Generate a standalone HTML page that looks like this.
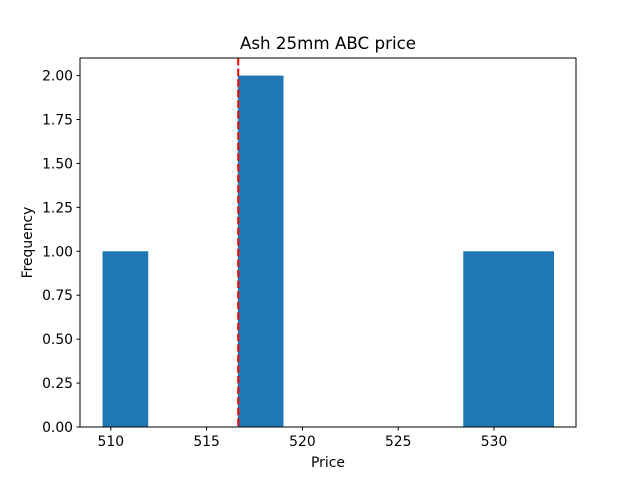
<!DOCTYPE html>
<html><head><meta charset="utf-8"><style>body{margin:0;background:#fff}svg text{font-family:"DejaVu Sans","Liberation Sans",sans-serif;fill:#000}</style></head>
<body>
<svg id="chart" width="640" height="480" xmlns="http://www.w3.org/2000/svg">
<rect width="640" height="480" fill="#fff"/>
<text x="328" y="49" font-size="16.7" text-anchor="middle">Ash 25mm ABC price</text>
<g id="bars"></g><g id="ticks"></g>
<rect x="80" y="58" width="496" height="369" fill="none" stroke="#000" stroke-width="1"/>
<text x="328" y="467" font-size="13.9" text-anchor="middle">Price</text>
<text transform="translate(32,242.5) rotate(-90)" font-size="13.9" text-anchor="middle">Frequency</text>
</svg>
<script>
const binCounts = [1,0,0,2,0,0,0,0,1,1];
const binMin = 509.57;
const binMax = 533.1;
const refValue = 516.65;
const xTicks = [510,515,520,525,530];
const yTicks = [0,0.25,0.5,0.75,1.0,1.25,1.5,1.75,2.0];

const L=80,R=576,T=58,B=427;
const span=binMax-binMin, xlo=binMin-0.05*span, xhi=binMax+0.05*span;
const maxC=Math.max(...binCounts), ylo=0, yhi=maxC*1.05;
const xs=v=>L+(v-xlo)/(xhi-xlo)*(R-L);
const ys=v=>B-(v-ylo)/(yhi-ylo)*(B-T);
const NS="http://www.w3.org/2000/svg";
const bars=document.getElementById('bars'), ticks=document.getElementById('ticks');
const w=span/binCounts.length;
binCounts.forEach((c,i)=>{
  if(!c) return;
  const r=document.createElementNS(NS,'rect');
  
  
  const x0=xs(binMin+i*w), x1=xs(binMin+(i+1)*w);
  r.setAttribute('x',x0);r.setAttribute('width',x1-x0+0.6);
  r.setAttribute('y',ys(c));r.setAttribute('height',ys(0)-ys(c));
  r.setAttribute('fill','#1f77b4');
  bars.appendChild(r);
});
const ln=document.createElementNS(NS,'line');


ln.setAttribute('x1',xs(refValue));ln.setAttribute('x2',xs(refValue));
ln.setAttribute('y1',T);ln.setAttribute('y2',B);
ln.setAttribute('stroke','red');ln.setAttribute('stroke-width','2');ln.setAttribute('stroke-dasharray','7.4,3.2');
bars.appendChild(ln);
xTicks.forEach(v=>{
  const x=xs(v);
  const t=document.createElementNS(NS,'line');
  
  
  t.setAttribute('x1',x);t.setAttribute('x2',x);t.setAttribute('y1',B);t.setAttribute('y2',B+3.5);t.setAttribute('stroke','#000');
  ticks.appendChild(t);
  const s=document.createElementNS(NS,'text');
  
  
  s.setAttribute('x',x);s.setAttribute('y',B+19);s.setAttribute('font-size','13.9');s.setAttribute('text-anchor','middle');
  s.textContent=v;ticks.appendChild(s);
});
yTicks.forEach(v=>{
  const y=ys(v);
  const t=document.createElementNS(NS,'line');
  
  
  t.setAttribute('x1',L-3.5);t.setAttribute('x2',L);t.setAttribute('y1',y);t.setAttribute('y2',y);t.setAttribute('stroke','#000');
  ticks.appendChild(t);
  const s=document.createElementNS(NS,'text');
  
  
  s.setAttribute('x',L-7);s.setAttribute('y',y+5);s.setAttribute('font-size','13.9');s.setAttribute('text-anchor','end');
  s.textContent=v.toFixed(2);ticks.appendChild(s);
});
</script>
</body></html>
